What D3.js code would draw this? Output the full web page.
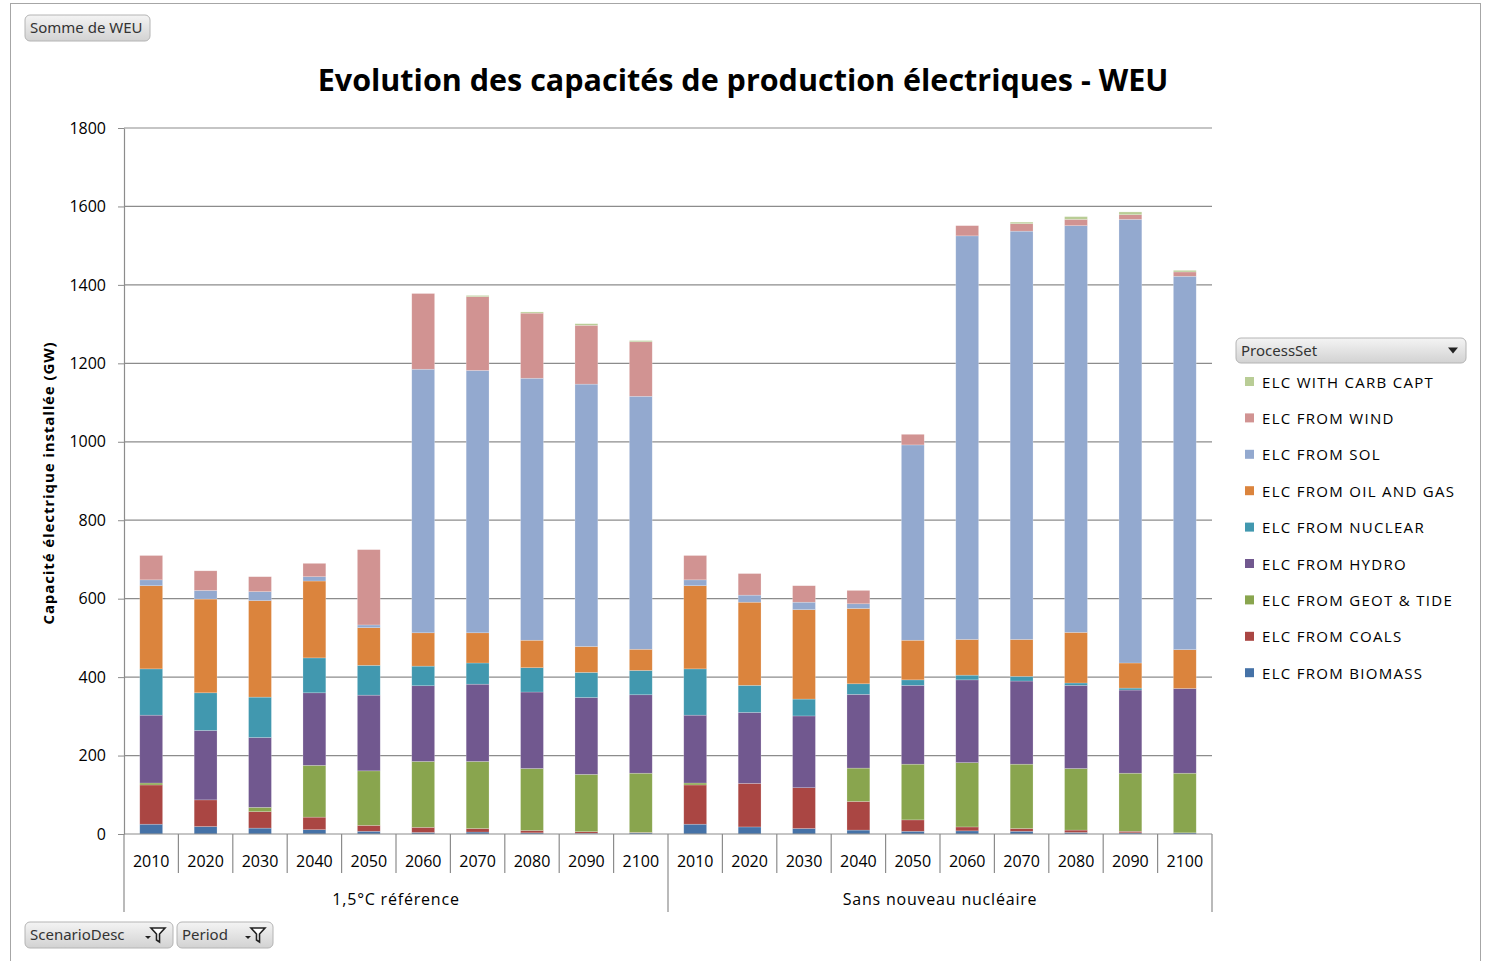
<!DOCTYPE html>
<html>
<head>
<meta charset="utf-8">
<script src="https://cdn.jsdelivr.net/npm/d3@7"></script>
<style>
  body { margin: 0; background: #fff; }
  text { font-family: "Open Sans", "Liberation Sans", sans-serif; }
</style>
</head>
<body>
<div id="chart"></div>
<script>
const width = 1486;
const height = 961;

// categories
const scenarios = ["1,5°C référence", "Sans nouveau nucléaire"];
const years = ["2010", "2020", "2030", "2040", "2050", "2060", "2070", "2080", "2090", "2100"];
const yTicks = [0, 200, 400, 600, 800, 1000, 1200, 1400, 1600, 1800];

// series values (GW), 10 periods for each scenario
const biomass = [25, 19, 15, 11, 7, 4, 5, 3, 2, 3, 25, 18, 14, 10, 7, 8, 7, 4, 3, 3];
const coals = [100, 68, 42, 32, 15, 13, 9, 6, 4, 1, 100, 111, 104, 73, 29, 10, 7, 6, 4, 0];
const geot = [5, 0, 11, 132, 139, 168, 171, 158, 146, 151, 5, 0, 0, 85, 142, 164, 164, 157, 148, 152];
const hydro = [173, 177, 178, 185, 193, 193, 197, 195, 196, 200, 173, 181, 183, 188, 201, 211, 212, 212, 212, 216];
const nuclear = [118, 96, 103, 89, 76, 50, 54, 62, 64, 62, 118, 69, 43, 27, 14, 12, 12, 6, 5, 0];
const oilGas = [212, 239, 246, 196, 96, 85, 77, 70, 66, 54, 212, 212, 228, 192, 101, 91, 94, 129, 64, 99];
const sol = [15, 22, 23, 11, 7, 672, 669, 668, 669, 645, 15, 18, 19, 12, 498, 1029, 1041, 1037, 1131, 952];
const wind = [62, 50, 38, 34, 192, 193, 188, 166, 150, 139, 62, 55, 42, 34, 27, 26, 19, 16, 12, 11];
const carbCapt = [0, 0, 0, 0, 0, 0, 3, 3, 4, 3, 0, 0, 0, 0, 0, 0, 4, 7, 7, 4];

const series = [
  { name: "ELC FROM BIOMASS", values: biomass, color: "#4572A7" },
  { name: "ELC FROM COALS", values: coals, color: "#AA4643" },
  { name: "ELC FROM GEOT & TIDE", values: geot, color: "#89A54E" },
  { name: "ELC FROM HYDRO", values: hydro, color: "#71588F" },
  { name: "ELC FROM NUCLEAR", values: nuclear, color: "#4198AF" },
  { name: "ELC FROM OIL AND GAS", values: oilGas, color: "#DB843D" },
  { name: "ELC FROM SOL", values: sol, color: "#93A9CF" },
  { name: "ELC FROM WIND", values: wind, color: "#D19392" },
  { name: "ELC WITH CARB CAPT", values: carbCapt, color: "#B9CD96" }
];

// table for d3.stack
const rows = [];
scenarios.forEach((s, si) => {
  years.forEach((y, yi) => {
    const i = si * years.length + yi;
    const r = { key: s + "|" + y, scenario: s, year: y };
    series.forEach(d => r[d.name] = d.values[i]);
    rows.push(r);
  });
});

const margin = { left: 124, right: 274, top: 128, bottom: 127 };

const svg = d3.select("#chart")
  .append("svg")
  .attr("width", width)
  .attr("height", height);

// outer frame
svg.append("rect")
  .attr("x", 10.5).attr("y", 3.5)
  .attr("width", 1470).attr("height", 970)
  .attr("fill", "none")
  .attr("stroke", "#a6a6a6");

const x = d3.scaleBand()
  .domain(rows.map(d => d.key))
  .range([margin.left, width - margin.right])
  .paddingInner(0.58)
  .paddingOuter(0.29);

const y = d3.scaleLinear()
  .domain([0, 1800])
  .range([height - margin.bottom, margin.top]);

// gridlines
svg.append("g")
  .selectAll("line")
  .data(yTicks.slice(1))
  .enter().append("line")
  .attr("x1", margin.left)
  .attr("x2", width - margin.right)
  .attr("y1", d => y(d))
  .attr("y2", d => y(d))
  .attr("stroke", "#8c8c8c")
  .attr("stroke-width", 1.2);

// title
svg.append("text")
  .attr("x", 743)
  .attr("y", 91)
  .attr("text-anchor", "middle")
  .attr("font-size", "30.5px")
  .attr("font-weight", "bold")
  .attr("fill", "#000")
  .text("Evolution des capacités de production électriques - WEU");

// stacked bars
const stack = d3.stack().keys(series.map(d => d.name));
const stacked = stack(rows);

svg.append("g")
  .selectAll("g")
  .data(stacked)
  .enter().append("g")
  .attr("fill", (d, i) => series[i].color)
  .selectAll("rect")
  .data(d => d)
  .enter().append("rect")
  .attr("x", d => x(d.data.key))
  .attr("width", x.bandwidth())
  .attr("y", d => y(d[1]))
  .attr("height", d => y(d[0]) - y(d[1]))
  .attr("stroke", "#ffffff")
  .attr("stroke-opacity", 0.35)
  .attr("stroke-width", 0.6);

// y axis
const yAxis = svg.append("g")
  .attr("transform", `translate(${margin.left},0)`)
  .call(d3.axisLeft(y).tickValues(yTicks).tickFormat(d3.format("d"))
    .tickSize(6).tickPadding(12).tickSizeOuter(0));
yAxis.select(".domain").attr("stroke", "#8c8c8c").attr("stroke-width", 1.2);
yAxis.selectAll(".tick line").attr("stroke", "#8c8c8c");
yAxis.selectAll(".tick text")
  .attr("font-size", "16px")
  .attr("fill", "#000");

svg.append("text")
  .attr("transform", `translate(54,${y(900) + 2}) rotate(-90)`)
  .attr("text-anchor", "middle")
  .attr("font-size", "15px")
  .attr("font-weight", "bold")
  .attr("letter-spacing", "0.9px")
  .attr("fill", "#000")
  .text("Capacité électrique installée (GW)");

// x axis, two levels
const y0 = y(0);
const step = x.step();
const xa = svg.append("g");
xa.append("line")
  .attr("x1", margin.left).attr("x2", width - margin.right)
  .attr("y1", y0).attr("y2", y0)
  .attr("stroke", "#8c8c8c").attr("stroke-width", 1.2);

rows.forEach((d, i) => {
  const xl = margin.left + i * step;
  const groupEdge = i % years.length === 0;
  xa.append("line")
    .attr("x1", xl).attr("x2", xl)
    .attr("y1", y0).attr("y2", groupEdge ? 912 : 873)
    .attr("stroke", "#8c8c8c").attr("stroke-width", 1.2);
  xa.append("text")
    .attr("x", x(d.key) + x.bandwidth() / 2)
    .attr("y", 867)
    .attr("text-anchor", "middle")
    .attr("font-size", "16px")
    .attr("fill", "#000")
    .text(d.year);
});
xa.append("line")
  .attr("x1", width - margin.right).attr("x2", width - margin.right)
  .attr("y1", y0).attr("y2", 912)
  .attr("stroke", "#8c8c8c").attr("stroke-width", 1.2);

scenarios.forEach((s, si) => {
  const x1 = margin.left + si * years.length * step;
  xa.append("text")
    .attr("x", x1 + years.length * step / 2)
    .attr("y", 905)
    .attr("text-anchor", "middle")
    .attr("font-size", "16px")
    .attr("letter-spacing", "0.8px")
    .attr("fill", "#000")
    .text(s);
});

// pivot field buttons
const grad = svg.append("defs").append("linearGradient")
  .attr("id", "btn").attr("x1", 0).attr("y1", 0).attr("x2", 0).attr("y2", 1);
grad.append("stop").attr("offset", "0%").attr("stop-color", "#f4f4f4");
grad.append("stop").attr("offset", "100%").attr("stop-color", "#d2d2d2");

function button(bx, by, bw, bh, label, kind) {
  const g = svg.append("g").attr("transform", `translate(${bx},${by})`);
  g.append("rect")
    .attr("width", bw).attr("height", bh)
    .attr("rx", 5)
    .attr("fill", "url(#btn)")
    .attr("stroke", "#b4b4b4");
  g.append("text")
    .attr("x", 5).attr("y", bh / 2 + 5)
    .attr("font-size", "15px")
    .attr("fill", "#333")
    .style("font-family", "'Noto Sans', 'Open Sans', sans-serif")
    .text(label);
  if (kind === "drop") {
    g.append("path")
      .attr("d", `M${bw - 18},${bh / 2 - 3}h10l-5,6z`)
      .attr("fill", "#222");
  }
  if (kind === "filter") {
    g.append("path")
      .attr("d", `M${bw - 28},${bh / 2 + 1}h6l-3,3z`)
      .attr("fill", "#222");
    g.append("path")
      .attr("d", `M${bw - 22},${bh / 2 - 7}h14l-5.5,6v8l-3,-2v-6z`)
      .attr("fill", "#fff")
      .attr("stroke", "#222")
      .attr("stroke-width", 1.6);
  }
}

button(25, 15, 125, 26, "Somme de WEU", null);
button(25, 922, 148, 26, "ScenarioDesc", "filter");
button(177, 922, 96, 26, "Period", "filter");
button(1236, 338, 230, 25, "ProcessSet", "drop");

// legend
const legendItems = series.slice().reverse();
const legend = svg.append("g")
  .selectAll("g")
  .data(legendItems)
  .enter().append("g")
  .attr("transform", (d, i) => `translate(1245,${382 + i * 36.4})`);
legend.append("rect")
  .attr("x", 0).attr("y", -5)
  .attr("width", 9).attr("height", 9)
  .attr("fill", d => d.color);
legend.append("text")
  .attr("x", 17).attr("y", 5.5)
  .attr("font-size", "15px")
  .attr("letter-spacing", "1.3px")
  .attr("fill", "#000")
  .text(d => d.name);
</script>
</body>
</html>
